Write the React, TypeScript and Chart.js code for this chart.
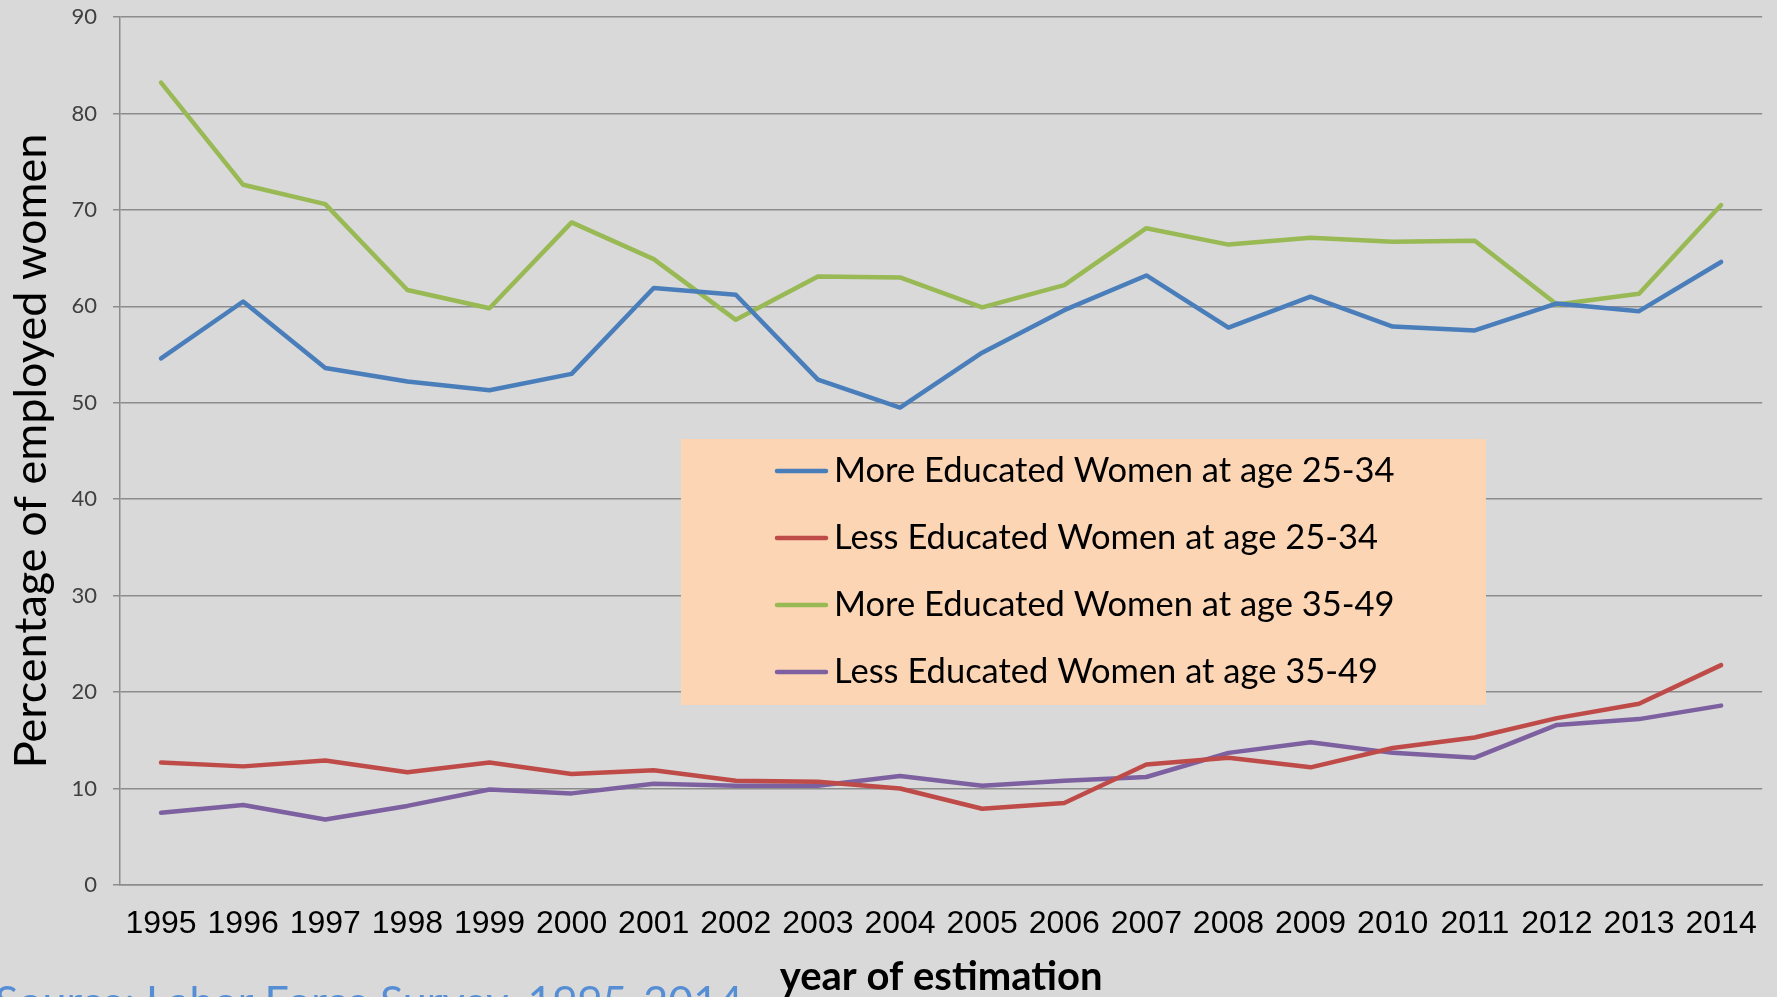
import React, { useEffect, useRef } from "react";
import { Chart, registerables } from "chart.js";

Chart.register(...registerables);

const years = [
  "1995", "1996", "1997", "1998", "1999", "2000", "2001", "2002", "2003", "2004",
  "2005", "2006", "2007", "2008", "2009", "2010", "2011", "2012", "2013", "2014",
];

const moreEdu2534 = [54.6, 60.5, 53.6, 52.2, 51.3, 53.0, 61.9, 61.2, 52.4, 49.5, 55.2, 59.6, 63.2, 57.8, 61.0, 57.9, 57.5, 60.3, 59.5, 64.6];
const lessEdu2534 = [12.7, 12.3, 12.9, 11.7, 12.7, 11.5, 11.9, 10.8, 10.7, 10.0, 7.9, 8.5, 12.5, 13.2, 12.2, 14.2, 15.3, 17.3, 18.8, 22.8];
const moreEdu3549 = [83.2, 72.6, 70.6, 61.7, 59.8, 68.7, 64.9, 58.6, 63.1, 63.0, 59.9, 62.2, 68.1, 66.4, 67.1, 66.7, 66.8, 60.2, 61.3, 70.5];
const lessEdu3549 = [7.5, 8.3, 6.8, 8.2, 9.9, 9.5, 10.5, 10.3, 10.3, 11.3, 10.3, 10.8, 11.2, 13.7, 14.8, 13.7, 13.2, 16.6, 17.2, 18.6];

const seriesLabels = [
  "More Educated Women at age 25-34",
  "Less Educated Women at age 25-34",
  "More Educated Women at age 35-49",
  "Less Educated Women at age 35-49",
];
const seriesColors = ["#4A7EBB", "#BE4B48", "#98B954", "#7D60A0"];

const yAxisTitle = "Percentage of employed women";
const xAxisTitle = "year of estimation";
const sourceText = "Source: Labor Force Survey, 1995-2014";

const overlayPlugin = {
  id: "overlayLegend",
  afterDatasetsDraw(chart: any) {
    const ctx = chart.ctx;
    ctx.save();
    ctx.fillStyle = "#FCD5B5";
    ctx.fillRect(681, 439, 805, 266);
    chart.data.datasets.forEach((ds: any, i: number) => {
      const y = 471 + i * 67;
      ctx.strokeStyle = ds.borderColor;
      ctx.lineWidth = 4.5;
      ctx.lineCap = "round";
      ctx.beginPath();
      ctx.moveTo(777, y);
      ctx.lineTo(826, y);
      ctx.stroke();
      ctx.fillStyle = "#000000";
      ctx.font = "34.5px Lato";
      ctx.textBaseline = "middle";
      ctx.textAlign = "left";
      ctx.fillText(ds.label, 834, y);
    });
    ctx.fillStyle = "#558ED5";
    ctx.font = "43px Lato";
    ctx.textBaseline = "alphabetic";
    ctx.textAlign = "left";
    ctx.fillText(sourceText, -5, 1017);
    ctx.restore();
  },
};

export default function App() {
  const ref = useRef<HTMLCanvasElement | null>(null);

  useEffect(() => {
    if (!ref.current) return;
    const series = [moreEdu2534, lessEdu2534, moreEdu3549, lessEdu3549];
    const chart = new Chart(ref.current, {
      type: "line",
      data: {
        labels: years,
        datasets: series.map((d, i) => ({
          label: seriesLabels[i],
          data: d,
          borderColor: seriesColors[i],
          backgroundColor: seriesColors[i],
          borderWidth: 4.5,
          pointRadius: 0,
          tension: 0,
          borderJoinStyle: "round" as const,
          borderCapStyle: "round" as const,
        })),
      },
      options: {
        responsive: false,
        animation: false,
        devicePixelRatio: 1,
        layout: { padding: { left: 0, right: 12, top: 17, bottom: 0 } },
        plugins: {
          legend: { display: false },
          tooltip: { enabled: false },
        },
        scales: {
          x: {
            type: "category",
            offset: true,
            grid: { display: false, drawTicks: false },
            border: { display: true, color: "#8C8C8C", width: 1.5 },
            ticks: {
              color: "#000000",
              font: { family: "Liberation Sans", size: 32, lineHeight: 1.2 },
              padding: 20,
              maxRotation: 0,
              autoSkip: false,
            },
            title: {
              display: true,
              text: xAxisTitle,
              color: "#000000",
              font: { family: "Lato", size: 40, weight: "bold", lineHeight: 1 },
              padding: { top: 0, bottom: 0 },
            },
            afterFit(scale: any) {
              scale.height = 112;
            },
          },
          y: {
            min: 0,
            max: 90,
            ticks: {
              stepSize: 10,
              color: "#404040",
              font: { family: "Lato", size: 22 },
              padding: 16,
            },
            grid: {
              color: "#8C8C8C",
              lineWidth: 1.5,
              tickLength: 7,
              drawTicks: true,
            },
            border: { display: true, color: "#8C8C8C", width: 1.5 },
            title: {
              display: true,
              text: yAxisTitle,
              color: "#000000",
              font: { family: "Lato", size: 45, lineHeight: 1 },
              padding: { top: 9, bottom: 0 },
            },
            afterFit(scale: any) {
              scale.width = 120;
              scale.paddingTop = 0;
              scale.paddingBottom = 0;
            },
          },
        },
      },
      plugins: [overlayPlugin],
    });
    return () => chart.destroy();
  }, []);

  return (
    <div
      style={{
        position: "absolute",
        left: 0,
        top: 0,
        width: 1777,
        height: 997,
        background: "#D9D9D9",
        overflow: "hidden",
      }}
    >
      <canvas ref={ref} width={1777} height={997} style={{ display: "block" }} />
    </div>
  );
}
